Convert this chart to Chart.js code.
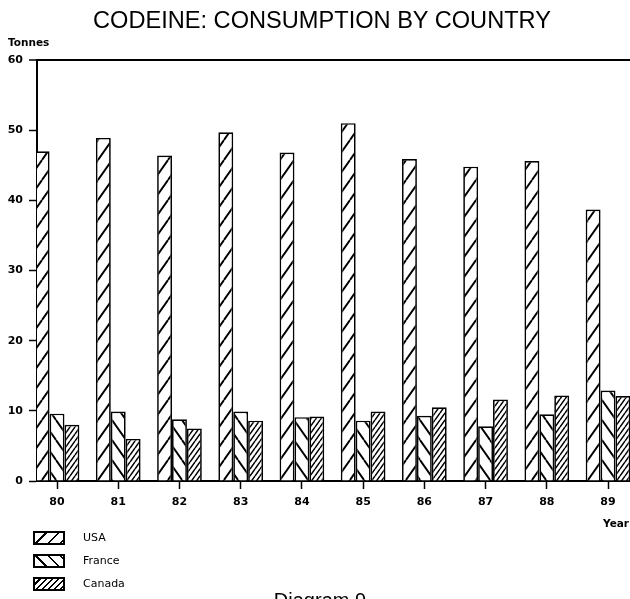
<!DOCTYPE html>
<html>
<head>
<meta charset="utf-8">
<script src="https://cdn.jsdelivr.net/npm/chart.js@4/dist/chart.umd.min.js"></script>
<style>
  html, body { margin: 0; padding: 0; background: #fff; }
  #wrap { position: relative; width: 630px; height: 599px; overflow: hidden; }
  #wrap canvas { position: absolute; left: 0; top: 0; }
  .txt { position: absolute; color: #000; white-space: nowrap; }
  #title { left: 0; width: 644px; text-align: center; top: 8px; font: 23.6px "Liberation Sans", Arial, sans-serif; line-height: 24px; }
  #tonnes { left: 8px; top: 36px; font: bold 10.5px "DejaVu Sans", sans-serif; line-height: 12px; }
  #year { left: 603px; top: 517px; font: bold 10.5px "DejaVu Sans", sans-serif; line-height: 12px; }
  #diagram { left: 0; width: 640px; text-align: center; top: 590px; font: 20px "Liberation Sans", Arial, sans-serif; line-height: 20px; }
  .sw { position: absolute; left: 33px; width: 28px; height: 10px; border: 2px solid #000; }
  .lab { position: absolute; left: 83px; font: 11px "DejaVu Sans", sans-serif; line-height: 12px; }
</style>
</head>
<body>
<div id="wrap">
  <canvas id="c" width="630" height="599"></canvas>
  <div class="txt" id="title">CODEINE: CONSUMPTION BY COUNTRY</div>
  <div class="txt" id="tonnes">Tonnes</div>
  <div class="txt" id="year">Year</div>
  <div class="txt" id="diagram">Diagram 9</div>
  <div id="legend"></div>
</div>
<script>
// ---- data ----
const years = [80, 81, 82, 83, 84, 85, 86, 87, 88, 89];
const yearLabels = ['80', '81', '82', '83', '84', '85', '86', '87', '88', '89'];
const seriesNames = ['USA', 'France', 'Canada'];
const usa = [47.0, 48.9, 46.4, 49.7, 46.8, 51.0, 45.9, 44.8, 45.6, 38.7];
const france = [9.6, 9.9, 8.8, 9.9, 9.1, 8.6, 9.3, 7.8, 9.5, 12.9];
const canada = [8.0, 6.0, 7.5, 8.6, 9.2, 9.9, 10.5, 11.6, 12.2, 12.1];
const yTicks = [0, 10, 20, 30, 40, 50, 60];

function hatch(w, h, dir, lw) {
  const c = document.createElement('canvas');
  c.width = w; c.height = h;
  const g = c.getContext('2d');
  g.fillStyle = '#fff';
  g.fillRect(0, 0, w, h);
  g.strokeStyle = '#000';
  g.lineWidth = lw;
  g.beginPath();
  for (const k of [-1, 0, 1]) {
    if (dir === '/') { g.moveTo(k * w, h); g.lineTo(k * w + w, 0); }
    else { g.moveTo(k * w, 0); g.lineTo(k * w + w, h); }
  }
  g.stroke();
  return g.createPattern(c, 'repeat');
}

const fills = [hatch(14, 20, '/', 1.9), hatch(14, 20, '\\', 1.9), hatch(5, 7, '/', 1.5)];
const swatchCss = [
  'repeating-linear-gradient(135deg, #fff 0 7px, #000 7px 8.6px)',
  'repeating-linear-gradient(45deg, #fff 0 7px, #000 7px 8.6px)',
  'repeating-linear-gradient(135deg, #fff 0 2.8px, #000 2.8px 4.3px)'
];

// HTML legend
const legend = document.getElementById('legend');
const rowY = [538, 561, 584];
seriesNames.forEach((n, i) => {
  const s = document.createElement('div');
  s.className = 'sw';
  s.style.top = (rowY[i] - 7) + 'px';
  s.style.background = swatchCss[i];
  legend.appendChild(s);
  const l = document.createElement('div');
  l.className = 'txt lab';
  l.style.top = (rowY[i] - 6) + 'px';
  l.textContent = n;
  legend.appendChild(l);
});

const allSeries = [usa, france, canada];
const datasets = allSeries.map((vals, i) => ({
  label: seriesNames[i],
  data: years.map((yr, j) => ({ x: yr, y: vals[j] })),
  backgroundColor: fills[i],
  borderColor: '#000',
  borderWidth: 1.7,
  categoryPercentage: 0.73,
  barPercentage: 1.0
}));

new Chart(document.getElementById('c'), {
  type: 'bar',
  data: { datasets },
  options: {
    responsive: false,
    animation: false,
    events: [],
    layout: { padding: { left: 0, right: 0, top: 60, bottom: 0 } },
    plugins: { legend: { display: false }, title: { display: false }, tooltip: { enabled: false } },
    scales: {
      x: {
        type: 'linear',
        offset: false,
        min: 79.673,
        max: 89.359,
        afterBuildTicks: (s) => { s.ticks = years.map(v => ({ value: v })); },
        afterFit: (s) => { s.height = 118; },
        grid: { offset: false, drawOnChartArea: false, drawTicks: true, tickLength: 8, tickColor: '#000', tickWidth: 1.5 },
        border: { display: true, color: '#000', width: 2 },
        ticks: {
          color: '#000',
          padding: 7,
          maxRotation: 0,
          autoSkip: false,
          font: { family: 'DejaVu Sans', weight: 'bold', size: 11 },
          callback: (v) => yearLabels[years.indexOf(v)]
        }
      },
      y: {
        min: 0,
        max: 60,
        afterBuildTicks: (s) => { s.ticks = yTicks.map(v => ({ value: v })); },
        afterFit: (s) => { s.width = 37; },
        grid: {
          drawOnChartArea: true,
          color: (ctx) => (ctx.tick && ctx.tick.value === 60) ? '#000' : 'rgba(0,0,0,0)',
          lineWidth: (ctx) => (ctx.tick && ctx.tick.value === 60) ? 2 : 1,
          tickColor: '#000',
          tickWidth: 1.5,
          tickLength: 8
        },
        border: { display: true, color: '#000', width: 2 },
        ticks: {
          color: '#000',
          padding: 6,
          font: { family: 'DejaVu Sans', weight: 'bold', size: 11 }
        }
      }
    }
  }
});
</script>
</body>
</html>
